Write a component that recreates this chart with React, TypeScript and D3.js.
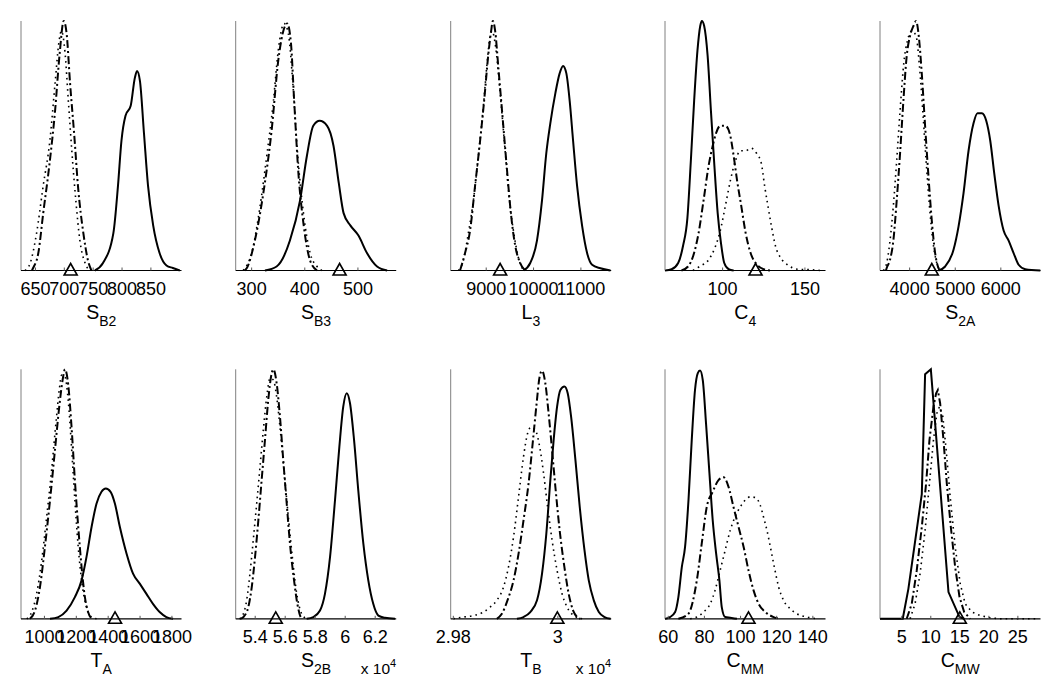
import React from "react";
import * as d3 from "d3";

type Pt = [number, number];

// ---------- Panel labels, axis limits, ticks, markers ----------
const LABEL_MAIN = ["S", "S", "L", "C", "S", "T", "S", "T", "C", "C"];
const LABEL_SUB = ["B2", "B3", "3", "4", "2A", "A", "2B", "B", "MM", "MW"];
const X_DOMAINS: [number, number][] = [
  [625, 903], [270, 572], [8250, 11640], [65, 162.5], [3350, 6870],
  [853, 1860], [5.27, 6.34], [2.9795, 3.0102], [58.2, 147], [1.25, 28.9],
];
const X_TICKS: number[][] = [
  [650, 700, 750, 800, 850],
  [300, 400, 500],
  [9000, 10000, 11000],
  [100, 150],
  [4000, 5000, 6000],
  [1000, 1200, 1400, 1600, 1800],
  [5.4, 5.6, 5.8, 6, 6.2],
  [2.98, 3],
  [60, 80, 100, 120, 140],
  [5, 10, 15, 20, 25],
];
const EXPONENT = [null, null, null, null, null, null, "4", "4", null, null];
const TRUE_VALUES = [711, 465.5, 9294, 120, 4486, 1443, 5.537, 2.9999, 104.4, 15];

// ---------- Density curves (x, relative density) ----------
const SB2_SOLID: Pt[] = [[753,0],[767,0.03],[785,0.15],[793,0.34],[799,0.52],[806,0.62],[815,0.66],[822,0.77],[826,0.8],[831,0.76],[838,0.55],[845,0.34],[854,0.18],[865,0.07],[877,0.02],[888,0.01],[900,0]];
const SB2_DASHDOT: Pt[] = [[644,0],[646,0.01],[655,0.07],[663.5,0.23],[674,0.42],[684,0.64],[692,0.87],[699,1],[704,0.95],[710,0.75],[717,0.55],[724,0.33],[733,0.15],[741,0.04],[747,0]];
const SB2_DOTTED: Pt[] = [[632,0],[641,0.03],[652,0.15],[663.5,0.34],[675,0.52],[684,0.75],[691,0.92],[695,0.96],[701,0.88],[707,0.68],[713,0.48],[720,0.28],[727,0.12],[736,0.03],[744,0]];

const SB3_SOLID: Pt[] = [[325,0],[347,0.016],[372,0.12],[391,0.28],[404,0.46],[416,0.58],[428,0.6],[442,0.58],[454,0.5],[464,0.35],[473,0.23],[486,0.18],[501,0.14],[517,0.07],[536,0.016],[555,0]];
const SB3_DASHDOT: Pt[] = [[287,0],[291,0.01],[306,0.12],[322,0.31],[338,0.57],[350,0.84],[361,0.97],[367,0.99],[374,0.91],[380,0.68],[388,0.39],[398,0.18],[410,0.04],[423,0]];
const SB3_DOTTED: Pt[] = [[284,0],[300,0.07],[316,0.26],[328.5,0.46],[341,0.68],[350,0.88],[361,0.99],[369,0.95],[377.5,0.75],[386,0.48],[397.5,0.23],[410,0.07],[423,0.016],[432,0]];

const L3_SOLID: Pt[] = [[9788,0],[9930,0.03],[10072,0.12],[10178,0.28],[10269,0.47],[10354,0.59],[10460,0.71],[10551,0.79],[10623,0.82],[10693,0.79],[10763,0.68],[10835,0.52],[10919,0.34],[11025,0.18],[11131,0.07],[11237,0.023],[11413,0.009],[11625,0]];
const L3_DASHDOT: Pt[] = [[8447,0],[8553,0.07],[8659,0.16],[8765,0.34],[8871,0.52],[8956,0.68],[9047,0.87],[9104,0.96],[9140,1],[9189,0.96],[9258,0.81],[9352,0.6],[9436,0.41],[9521,0.23],[9612,0.1],[9718,0.03],[9824,0]];
const L3_DOTTED: Pt[] = [[8411,0],[8517,0.04],[8623,0.15],[8729,0.28],[8835,0.46],[8941,0.66],[9013,0.82],[9083,0.94],[9125,0.96],[9189,0.91],[9295,0.71],[9400,0.48],[9492,0.28],[9591,0.14],[9682,0.05],[9788,0]];

const C4_SOLID: Pt[] = [[65,0],[69,0.005],[73,0.03],[76,0.1],[78.6,0.21],[80.7,0.44],[82.7,0.68],[84.7,0.88],[86.4,0.98],[87.4,1],[88.8,0.98],[90.9,0.86],[92.9,0.64],[95,0.42],[97,0.23],[99,0.11],[101,0.03],[103.7,0.005],[106.7,0]];
const C4_DASHDOT: Pt[] = [[75,0],[79,0.016],[82,0.056],[85.4,0.15],[88.4,0.28],[91.5,0.42],[94,0.5],[96,0.55],[98.6,0.58],[101.7,0.58],[104.3,0.55],[106.7,0.46],[108.8,0.36],[111.3,0.26],[114,0.15],[117,0.07],[121,0.023],[125,0.005],[129,0]];
const C4_DOTTED: Pt[] = [[82,0],[86,0.016],[91.5,0.043],[95.6,0.096],[98.6,0.16],[101.7,0.26],[104.7,0.36],[107.8,0.44],[110.8,0.48],[113.9,0.48],[117.4,0.49],[120.6,0.47],[123.5,0.43],[125.5,0.34],[127.5,0.26],[129.6,0.18],[132.2,0.096],[135.3,0.05],[139.4,0.023],[145.5,0.005],[153.6,0.003],[159.7,0]];

const S2A_SOLID: Pt[] = [[4632,0],[4779,0.016],[4962,0.083],[5072,0.176],[5182,0.31],[5292,0.48],[5401,0.59],[5489,0.63],[5585,0.63],[5680,0.6],[5768,0.52],[5855,0.39],[5951,0.26],[6061,0.16],[6171,0.12],[6280,0.07],[6390,0.023],[6537,0.005],[6866,0]];
const S2A_DASHDOT: Pt[] = [[3480,0],[3497,0.01],[3570,0.043],[3643,0.12],[3716,0.28],[3790,0.47],[3863,0.68],[3936,0.86],[4009,0.94],[4083,0.98],[4141,1],[4200,0.94],[4266,0.79],[4339,0.58],[4412,0.38],[4486,0.2],[4559,0.07],[4632,0.01],[4660,0]];
const S2A_DOTTED: Pt[] = [[3423,0],[3497,0.03],[3570,0.12],[3643,0.26],[3716,0.44],[3790,0.64],[3877,0.84],[3951,0.92],[4046,0.96],[4141,0.94],[4215,0.82],[4288,0.64],[4361,0.44],[4434,0.26],[4508,0.12],[4595,0.03],[4669,0]];

const TA_SOLID: Pt[] = [[1035,0],[1087,0.007],[1139,0.033],[1191,0.087],[1233,0.154],[1264,0.248],[1296,0.369],[1327,0.462],[1358,0.509],[1385,0.522],[1415,0.509],[1442,0.462],[1473,0.369],[1515,0.262],[1556,0.181],[1598,0.141],[1640,0.1],[1681,0.06],[1723,0.027],[1765,0.007],[1807,0]];
const TA_DASHDOT: Pt[] = [[909,0],[941,0.033],[972,0.127],[1003,0.288],[1035,0.475],[1066,0.676],[1093,0.85],[1114,0.957],[1129,1],[1149,0.94],[1170,0.77],[1191,0.556],[1212,0.369],[1233,0.208],[1254,0.087],[1274,0.027],[1296,0]];
const TA_DOTTED: Pt[] = [[889,0],[920,0.027],[951,0.1],[983,0.234],[1014,0.408],[1045,0.596],[1072,0.783],[1093,0.917],[1108,0.977],[1129,0.97],[1149,0.877],[1170,0.689],[1191,0.475],[1212,0.288],[1239,0.127],[1264,0.047],[1296,0.007],[1327,0]];

const S2B_SOLID: Pt[] = [[5.743,0],[5.787,0.007],[5.832,0.033],[5.865,0.1],[5.899,0.248],[5.932,0.475],[5.961,0.689],[5.987,0.85],[6.01,0.904],[6.032,0.864],[6.059,0.717],[6.087,0.516],[6.121,0.301],[6.154,0.154],[6.187,0.06],[6.221,0.013],[6.265,0.004],[6.332,0]];
const S2B_DASHDOT: Pt[] = [[5.3,0],[5.321,0.007],[5.354,0.047],[5.377,0.127],[5.399,0.248],[5.421,0.395],[5.443,0.556],[5.465,0.716],[5.487,0.877],[5.51,0.984],[5.521,1],[5.543,0.944],[5.565,0.81],[5.587,0.636],[5.61,0.462],[5.632,0.3],[5.659,0.154],[5.681,0.06],[5.703,0.007],[5.715,0]];
const S2B_DOTTED: Pt[] = [[5.295,0],[5.31,0.007],[5.343,0.074],[5.365,0.181],[5.387,0.315],[5.41,0.462],[5.432,0.609],[5.454,0.756],[5.477,0.89],[5.499,0.964],[5.521,0.957],[5.543,0.89],[5.565,0.77],[5.592,0.596],[5.621,0.408],[5.65,0.234],[5.677,0.1],[5.71,0.02],[5.743,0]];

const TB_SOLID: Pt[] = [[2.99217,0],[2.99343,0.007],[2.99472,0.027],[2.99601,0.074],[2.99697,0.181],[2.99779,0.341],[2.99856,0.556],[2.99919,0.716],[2.99985,0.85],[3.00048,0.917],[3.00125,0.931],[3.00188,0.904],[3.00253,0.81],[3.00336,0.636],[3.00418,0.449],[3.00509,0.275],[3.00591,0.154],[3.00687,0.074],[3.00783,0.027],[3.00892,0.007],[3.01008,0]];
const TB_DASHDOT: Pt[] = [[2.98833,0],[2.98929,0.02],[2.99036,0.074],[2.99152,0.154],[2.99248,0.261],[2.99343,0.395],[2.99439,0.542],[2.99524,0.716],[2.99587,0.85],[2.99651,0.97],[2.99697,0.994],[2.9976,0.944],[2.99823,0.823],[2.99889,0.676],[2.99952,0.529],[3.00034,0.355],[3.00125,0.207],[3.00207,0.1],[3.00292,0.033],[3.00368,0.007],[3.00432,0]];
const TB_DOTTED: Pt[] = [[2.98,0],[2.98192,0.007],[2.98384,0.013],[2.98576,0.027],[2.98704,0.047],[2.98833,0.074],[2.9896,0.127],[2.99056,0.208],[2.99152,0.328],[2.99248,0.489],[2.99343,0.65],[2.9942,0.743],[2.99486,0.768],[2.99568,0.757],[2.99651,0.69],[2.99727,0.582],[2.99804,0.448],[2.99889,0.315],[2.99985,0.194],[3.00081,0.1],[3.00176,0.047],[3.00303,0.013],[3.00464,0]];

const CMM_SOLID: Pt[] = [[58.2,0],[61,0.007],[63.8,0.027],[65.6,0.087],[67.5,0.207],[69.3,0.288],[71.2,0.476],[73,0.717],[74.8,0.917],[76.3,0.984],[77.6,0.995],[79.1,0.957],[80.9,0.783],[82.8,0.582],[84.6,0.395],[86.5,0.261],[88.3,0.154],[89.6,0.047],[91.5,0.007],[94.3,0.004],[98,0]];
const CMM_DASHDOT: Pt[] = [[65.6,0],[71.1,0.02],[75.8,0.154],[78.5,0.3],[81.3,0.448],[84.6,0.509],[87.8,0.556],[90.6,0.567],[93.3,0.53],[96.1,0.448],[98.9,0.368],[101.7,0.288],[104.4,0.194],[107.2,0.114],[110,0.06],[113.7,0.027],[118.3,0.007],[122,0]];
const CMM_DOTTED: Pt[] = [[72.1,0],[75.8,0.007],[79.5,0.027],[83.2,0.06],[85.9,0.114],[88.7,0.194],[91.5,0.275],[94.3,0.355],[97,0.409],[99.8,0.448],[102.6,0.476],[105.4,0.489],[108.1,0.486],[110.9,0.455],[112.7,0.408],[114.6,0.355],[116.5,0.288],[118.7,0.207],[121.1,0.127],[123.8,0.074],[127.5,0.04],[131.2,0.02],[136.8,0.007],[142.4,0]];

const CMW_SOLID: Pt[] = [[1.25,0],[5.17,0],[6.14,0.12],[8.45,0.5],[9.02,0.98],[10.01,1],[13.05,0.107],[14.95,0.007],[15.75,0]];
const CMW_DASHDOT: Pt[] = [[5.85,0],[6.72,0.06],[7.58,0.194],[8.45,0.368],[9.19,0.542],[9.77,0.716],[10.46,0.85],[10.92,0.904],[11.21,0.917],[11.61,0.864],[12.19,0.716],[12.76,0.542],[13.45,0.368],[14.2,0.207],[14.95,0.087],[15.75,0.027],[16.79,0]];
const CMW_DOTTED: Pt[] = [[6.43,0],[7.29,0.06],[8.16,0.181],[9.02,0.355],[9.77,0.542],[10.46,0.716],[11.04,0.823],[11.49,0.85],[12.08,0.81],[12.65,0.676],[13.34,0.489],[14.2,0.288],[15.07,0.141],[15.93,0.06],[17.09,0.027],[18.52,0.013],[20.25,0.004],[21.98,0],[28,0]];

const SOLID_SERIES = [SB2_SOLID, SB3_SOLID, L3_SOLID, C4_SOLID, S2A_SOLID, TA_SOLID, S2B_SOLID, TB_SOLID, CMM_SOLID, CMW_SOLID];
const DASHDOT_SERIES = [SB2_DASHDOT, SB3_DASHDOT, L3_DASHDOT, C4_DASHDOT, S2A_DASHDOT, TA_DASHDOT, S2B_DASHDOT, TB_DASHDOT, CMM_DASHDOT, CMW_DASHDOT];
const DOTTED_SERIES = [SB2_DOTTED, SB3_DOTTED, L3_DOTTED, C4_DOTTED, S2A_DOTTED, TA_DOTTED, S2B_DOTTED, TB_DOTTED, CMM_DOTTED, CMW_DOTTED];

// ---------- Layout ----------
const W = 1050;
const H = 681;
const COL_LEFT = [21, 235.7, 450.7, 665, 880];
const PANEL_W = 160.5;
const ROW_TOP = [21, 369.3];
const PANEL_H = 249.5;
const FONT = "'Liberation Sans', Arial, Helvetica, sans-serif";

function Panel({ i }: { i: number }) {
  const col = i % 5;
  const row = Math.floor(i / 5);
  const left = COL_LEFT[col];
  const top = ROW_TOP[row];
  const bottom = top + PANEL_H;
  const right = left + PANEL_W;
  const x = d3.scaleLinear().domain(X_DOMAINS[i]).range([left, right]);
  const y = d3.scaleLinear().domain([0, 1]).range([bottom, top]);
  const curve = i === 9 ? d3.curveLinear : d3.curveMonotoneX;
  const line = d3
    .line<Pt>()
    .x((d) => x(d[0]))
    .y((d) => y(d[1]))
    .curve(curve);
  const tv = x(TRUE_VALUES[i]);
  const tri = `M${tv},${bottom - 7} L${tv + 6.5},${bottom + 4.5} L${tv - 6.5},${bottom + 4.5} Z`;
  const cx = (left + right) / 2;
  return (
    <g>
      <path d={line(DOTTED_SERIES[i]) || ""} fill="none" stroke="#000" strokeWidth={1.6} strokeDasharray="1.6,4" />
      <path d={line(DASHDOT_SERIES[i]) || ""} fill="none" stroke="#000" strokeWidth={2} strokeDasharray="8,3,2,3" />
      <path d={line(SOLID_SERIES[i]) || ""} fill="none" stroke="#000" strokeWidth={2} />
      <line x1={left} x2={left} y1={top} y2={bottom} stroke="#808080" strokeWidth={1} />
      <line x1={left} x2={right} y1={bottom} y2={bottom} stroke="#000" strokeWidth={1.2} />
      {X_TICKS[i].map((t) => (
        <g key={t}>
          <line x1={x(t)} x2={x(t)} y1={bottom} y2={bottom - 3} stroke="#555" strokeWidth={1} />
          <text x={x(t)} y={bottom + 24.5} textAnchor="middle" fontSize={18} fontFamily={FONT} fill="#000">
            {String(t)}
          </text>
        </g>
      ))}
      <path d={tri} fill="none" stroke="#000" strokeWidth={1.6} strokeLinejoin="miter" />
      <text x={cx} y={bottom + 48} textAnchor="middle" fontFamily={FONT} fill="#000">
        <tspan fontSize={19.5}>{LABEL_MAIN[i]}</tspan>
        <tspan fontSize={14} dy={7}>{LABEL_SUB[i]}</tspan>
      </text>
      {EXPONENT[i] && (
        <text x={right} y={bottom + 55} textAnchor="end" fontFamily={FONT} fill="#000">
          <tspan fontSize={15.5}>x 10</tspan>
          <tspan fontSize={11} dy={-7}>{EXPONENT[i]}</tspan>
        </text>
      )}
    </g>
  );
}

export default function App() {
  return (
    <svg
      width={W}
      height={H}
      viewBox={`0 0 ${W} ${H}`}
      style={{ position: "absolute", left: 0, top: 0, background: "#fff" }}
    >
      <rect x={0} y={0} width={W} height={H} fill="#fff" />
      {d3.range(10).map((i) => (
        <Panel key={i} i={i} />
      ))}
    </svg>
  );
}
